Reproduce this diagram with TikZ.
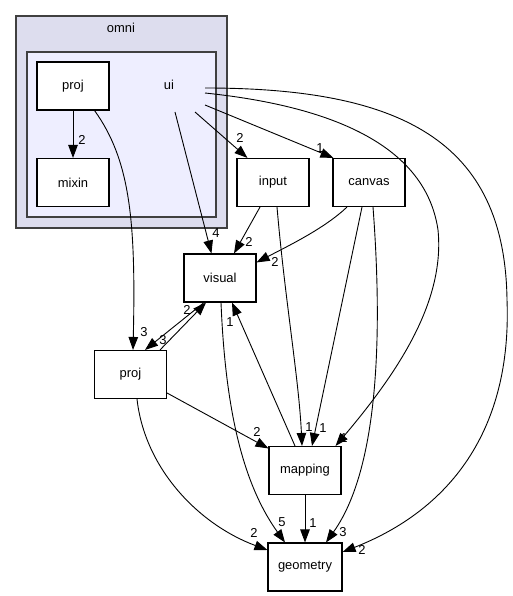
\documentclass[tikz,border=0pt]{standalone}
\usepackage{fontspec}
\setmainfont{Liberation Sans}
\usetikzlibrary{arrows.meta}
\definecolor{outerfill}{HTML}{DDDDEE}
\definecolor{innerfill}{HTML}{EEEEFF}
\definecolor{clborder}{HTML}{404040}
\tikzset{
  dirbox/.style={draw=black, fill=white, line width=1.1bp, minimum width=72bp, minimum height=48bp, inner sep=0pt, font=\fontsize{13}{15}\selectfont},
  cluster/.style={draw=clborder, line width=1.3bp},
  dep/.style={line width=0.9bp, -{Triangle[length=13bp,width=9.5bp]}},
  lbl/.style={inner sep=0pt, font=\fontsize{13}{15}\selectfont},
  title/.style={inner sep=0pt, font=\fontsize{13}{15}\selectfont}
}
\begin{document}
\begin{tikzpicture}[x=1bp,y=-1bp]
\useasboundingbox (0,0) rectangle (513,596);
% clusters
\filldraw[cluster, fill=outerfill] (16,16) rectangle (227,228);
\node[title] (omnititle) at (121,28) {omni};
\filldraw[cluster, fill=innerfill] (27,52) rectangle (216,217);
\node[title] (ui) at (169,85) {ui};
\coordinate (u1) at (195,112);
\coordinate (u2) at (205,105);
\coordinate (u3) at (175,112);
\coordinate (u4) at (205,93);
\coordinate (u5) at (205,88);
% nodes
\node[dirbox] (iproj) at (73,86) {proj};
\node[dirbox] (mixin) at (73,182.5) {mixin};
\node[dirbox] (input) at (273,182.5) {input};
\node[dirbox] (canvas) at (369,182.5) {canvas};
\node[dirbox] (visual) at (220,278) {visual};
\node[dirbox] (proj) at (130.5,374.5) {proj};
\node[dirbox] (mapping) at (305,470.5) {mapping};
\node[dirbox, minimum width=74bp] (geometry) at (305,567) {geometry};
% edges
\draw[dep] (iproj.south) -- (mixin.north);
\draw[dep] (u1) -- ([xshift=11bp]input.north west);
\draw[dep] (u2) -- ([xshift=1bp]canvas.north west);
\draw[dep] (u3) -- ([xshift=28bp]visual.north west);
\draw[dep] (u4) .. controls (320,105) and (425,140) .. (438,230) .. controls (445,300) and (400,370) .. ([xshift=-6bp]mapping.north east);
\draw[dep] (u5) .. controls (400,88) and (505,140) .. (507,300) .. controls (512,430) and (450,510) .. ([yshift=15bp]geometry.east);
\draw[dep] ([xshift=-15bp]iproj.south east) .. controls (130,160) and (136,220) .. ([xshift=2.5bp]proj.north);
\draw[dep] ([xshift=-13bp]input.south) -- ([xshift=14bp]visual.north);
\draw[dep] ([xshift=-22bp]canvas.south) .. controls (325,228) and (290,245) .. ([yshift=-9bp]visual.north east);
\draw[dep] ([xshift=4bp]input.south) .. controls (285,300) and (299,380) .. ([xshift=-3bp]mapping.north);
\draw[dep] ([xshift=-7bp]canvas.south) -- ([xshift=7bp]mapping.north);
\draw[dep] ([xshift=4bp]canvas.south) .. controls (380,300) and (385,460) .. ([xshift=21bp]geometry.north);
\draw[dep] ([xshift=-16bp]visual.south) -- ([xshift=14.5bp]proj.north);
\draw[dep] ([xshift=29.5bp]proj.north) -- ([xshift=-14bp]visual.south);
\draw[dep] ([xshift=-10bp]mapping.north) -- ([xshift=12bp]visual.south);
\draw[dep] ([xshift=1bp]visual.south) .. controls (225,400) and (240,480) .. ([xshift=-20bp]geometry.north);
\draw[dep] ([yshift=-18.5bp]proj.east) -- ([yshift=-2.5bp]mapping.north west);
\draw[dep] ([xshift=6.5bp]proj.south) .. controls (145,470) and (200,525) .. ([yshift=17bp]geometry.west);
\draw[dep] (mapping.south) -- (geometry.north);
% labels
\node[lbl] (l1) at (82,140) {2};
\node[lbl] (l2) at (240,138) {2};
\node[lbl] (l3) at (320,148) {1};
\node[lbl] (l4) at (216,233) {4};
\node[lbl] (l5) at (249,242) {2};
\node[lbl] (l6) at (275,262) {2};
\node[lbl] (l7) at (344,438) {1};
\node[lbl] (l8) at (309,427) {1};
\node[lbl] (l9) at (323,428) {1};
\node[lbl] (l10) at (362,550) {2};
\node[lbl] (l11) at (144,332) {3};
\node[lbl] (l12) at (187,310) {2};
\node[lbl] (l13) at (163,340) {3};
\node[lbl] (l14) at (230,322) {1};
\node[lbl] (l15) at (282,522) {5};
\node[lbl] (l16) at (257,432) {2};
\node[lbl] (l17) at (254,533) {2};
\node[lbl] (l18) at (313,523) {1};
\node[lbl] (l19) at (343,532) {3};
\end{tikzpicture}
\end{document}
